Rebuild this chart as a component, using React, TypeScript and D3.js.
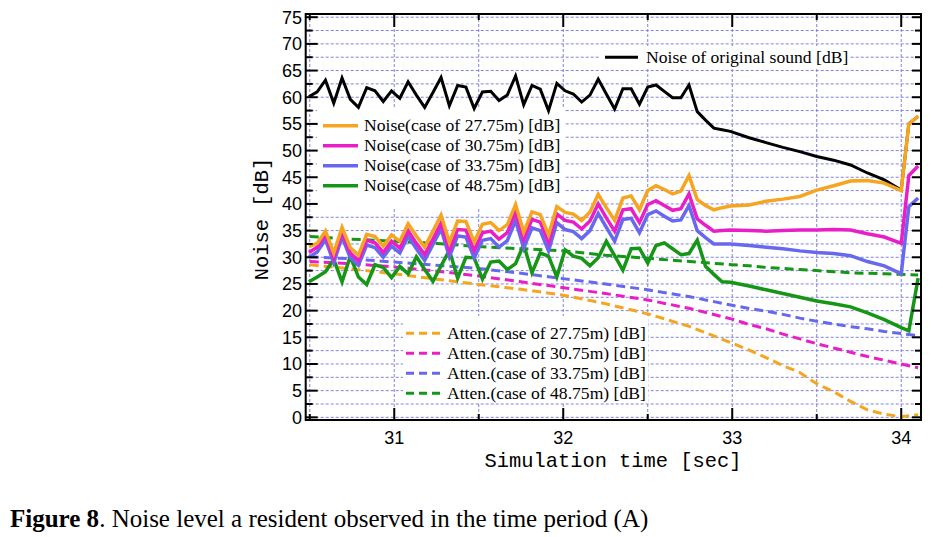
import React from 'react';
import * as d3 from 'd3';

// ---- data ----
const TIMES = [
  30.495, 30.544, 30.593, 30.642, 30.691, 30.740, 30.788, 30.837, 30.886, 30.935,
  30.984, 31.033, 31.082, 31.131, 31.180, 31.229, 31.277, 31.326, 31.375, 31.424,
  31.473, 31.522, 31.571, 31.620, 31.669, 31.718, 31.766, 31.815, 31.864, 31.913,
  31.962, 32.011, 32.060, 32.109, 32.158, 32.207, 32.255, 32.304, 32.353, 32.402,
  32.451, 32.500, 32.549, 32.598, 32.647, 32.696, 32.744, 32.793, 32.842, 32.891,
  32.940, 32.989,
  33.1, 33.2, 33.3, 33.4, 33.5, 33.6, 33.7, 33.8, 33.9, 34.0, 34.045, 34.1,
];

const ORIGINAL = [
  60.1, 61.0, 63.2, 58.9, 63.6, 59.6, 58.1, 61.8, 61.2, 59.2,
  61.2, 59.8, 62.9, 60.4, 58.1, 60.9, 63.7, 58.4, 62.2, 61.9,
  57.9, 61.0, 61.1, 59.4, 60.4, 64.0, 58.6, 62.2, 61.5, 57.5,
  62.6, 61.2, 60.6, 59.1, 60.4, 63.4, 60.6, 57.8, 61.6, 61.6,
  58.7, 61.9, 62.3, 61.1, 59.9, 59.9, 62.3, 57.3, 55.7, 54.2,
  53.9, 53.6,
  52.4, 51.5, 50.6, 49.8, 48.9, 48.2, 47.3, 45.8, 44.5, 42.6, 55.0, 56.4,
];

const NOISE_27 = [
  32.0, 32.6, 34.9, 30.8, 35.6, 31.8, 30.4, 34.3, 33.9, 32.1,
  34.2, 33.0, 36.3, 34.0, 31.9, 34.9, 37.9, 32.8, 36.8, 36.7,
  32.9, 36.2, 36.5, 35.0, 36.1, 39.9, 34.7, 38.5, 38.0, 34.2,
  39.5, 38.4, 38.1, 36.9, 38.5, 41.8, 39.3, 36.9, 41.1, 41.5,
  38.9, 42.5, 43.4, 42.7, 41.9, 42.4, 45.3, 40.8, 39.7, 38.9,
  39.3, 39.6,
  39.8, 40.5, 40.9, 41.4, 42.6, 43.4, 44.3, 44.4, 43.9, 42.5, 55.0, 56.4,
];

const NOISE_30 = [
  30.9, 31.9, 34.2, 29.9, 34.7, 30.8, 29.4, 33.2, 32.7, 30.9,
  33.0, 31.7, 35.0, 32.6, 30.5, 33.4, 36.4, 31.3, 35.2, 35.1,
  31.3, 34.6, 34.9, 33.4, 34.6, 38.5, 33.3, 37.1, 36.6, 32.8,
  38.1, 36.9, 36.6, 35.3, 36.8, 40.0, 37.4, 34.9, 38.9, 39.1,
  36.5, 39.9, 40.6, 39.7, 38.8, 39.1, 41.9, 37.2, 36.0, 34.9,
  35.0, 35.1,
  35.0, 34.9, 35.0, 35.1, 35.1, 35.2, 35.1, 34.4, 33.8, 32.6, 45.3, 47.1,
];

const NOISE_33 = [
  30.0, 31.0, 33.3, 29.0, 33.8, 29.9, 28.5, 32.3, 31.8, 30.0,
  32.1, 30.8, 34.0, 31.6, 29.4, 32.4, 35.3, 30.1, 34.0, 33.8,
  29.9, 33.2, 33.5, 31.9, 33.1, 36.9, 31.7, 35.5, 35.0, 31.2,
  36.5, 35.2, 34.8, 33.5, 35.0, 38.2, 35.6, 33.0, 37.1, 37.3,
  34.6, 38.0, 38.7, 37.7, 36.8, 37.0, 39.7, 35.0, 33.7, 32.5,
  32.5, 32.5,
  32.2, 31.9, 31.6, 31.2, 30.9, 30.7, 30.3, 29.2, 28.4, 26.9, 39.5, 41.1,
];

const NOISE_48 = [
  25.4, 26.3, 27.3, 29.6, 25.4, 30.2, 26.3, 24.9, 28.6, 28.1,
  26.2, 28.3, 26.9, 30.1, 27.7, 25.5, 28.4, 31.3, 26.1, 30.0,
  29.9, 25.9, 29.1, 29.3, 27.7, 28.8, 32.4, 27.1, 30.8, 30.2,
  26.3, 31.4, 30.2, 29.8, 28.4, 29.9, 33.0, 30.3, 27.6, 31.6,
  31.7, 28.9, 32.2, 32.7, 31.6, 30.5, 30.7, 33.2, 28.3, 26.8,
  25.4, 25.3,
  24.6, 23.9, 23.2, 22.5, 21.8, 21.3, 20.7, 19.6, 18.3, 16.8, 16.2, 26.1,
];

const ATTEN_TIMES = [
  30.5, 30.75, 31.0, 31.25, 31.5, 31.75, 32.0, 32.25, 32.5, 32.75, 33.0,
  33.1, 33.2, 33.3, 33.4, 33.5, 33.6, 33.7, 33.8, 33.9, 34.0, 34.1,
];
const ATTEN_27 = [28.6, 27.8, 26.9, 25.9, 24.9, 24.0, 22.9, 21.3, 19.4, 17.0, 13.9, 12.6, 11.2, 9.7, 8.4, 6.3, 4.8, 3.0, 1.4, 0.6, 0.1, 0.5];
const ATTEN_30 = [29.2, 28.8, 28.2, 27.4, 26.5, 25.4, 24.3, 23.2, 22.0, 20.4, 18.4, 17.4, 16.6, 15.6, 14.7, 13.8, 13.0, 12.2, 11.4, 10.7, 10.0, 9.3];
const ATTEN_33 = [30.1, 29.7, 29.1, 28.5, 27.9, 27.0, 26.0, 25.0, 23.9, 22.6, 21.0, 20.4, 19.9, 19.3, 18.6, 18.0, 17.5, 17.0, 16.6, 16.1, 15.7, 15.3];
const ATTEN_48 = [33.9, 33.4, 33.0, 32.6, 32.0, 31.6, 31.2, 30.4, 29.8, 29.2, 28.6, 28.4, 28.1, 27.9, 27.7, 27.5, 27.3, 27.1, 27.0, 26.9, 26.8, 26.7];

const Y_TICKS = [0, 5, 10, 15, 20, 25, 30, 35, 40, 45, 50, 55, 60, 65, 70, 75];
const X_TICKS = [31, 32, 33, 34];

const NOISE_LABELS = [
  'Noise(case of 27.75m) [dB]',
  'Noise(case of 30.75m) [dB]',
  'Noise(case of 33.75m) [dB]',
  'Noise(case of 48.75m) [dB]',
];
const ATTEN_LABELS = [
  'Atten.(case of 27.75m) [dB]',
  'Atten.(case of 30.75m) [dB]',
  'Atten.(case of 33.75m) [dB]',
  'Atten.(case of 48.75m) [dB]',
];
const ORIGINAL_LABEL = 'Noise of original sound [dB]';

const COLORS = ['#f5a51f', '#ea1ec6', '#6868ee', '#169616'];

export default function App() {
  const W = 943, H = 537;
  const x0 = 305.7, x1 = 921, yTop = 14, yBot = 420;
  const x = d3.scaleLinear().domain([30.476, 34.117]).range([x0, x1]);
  const y = d3.scaleLinear().domain([-0.5, 75.6]).range([yBot, yTop]);

  const line = d3.line<[number, number]>().x(d => x(d[0])).y(d => y(d[1]));
  const mk = (ts: number[], vs: number[]) => line(ts.map((t, i) => [t, vs[i]] as [number, number])) || '';

  const noise = [NOISE_27, NOISE_30, NOISE_33, NOISE_48];
  const atten = [ATTEN_27, ATTEN_30, ATTEN_33, ATTEN_48];

  const hGrid = d3.range(0, 75.01, 2.5);
  const vGrid = d3.range(30.5, 34.01, 0.5);

  const gridColor = '#8282dc';
  const tickFont = "'Liberation Sans', Arial, sans-serif";
  const monoFont = "'Liberation Mono', 'DejaVu Sans Mono', monospace";
  const serif = "'Liberation Serif', 'Times New Roman', serif";

  const noiseRows = [125.7, 145.7, 165.7, 185.7];
  const attenRows = [333.3, 353.3, 373.3, 393.3];

  return (
    <svg width={W} height={H} style={{ position: 'absolute', left: 0, top: 0, background: '#fff' }}>
      <defs>
        <clipPath id="plot">
          <rect x={x0} y={yTop} width={x1 - x0} height={yBot - yTop} />
        </clipPath>
      </defs>
      <rect x={0} y={0} width={W} height={H} fill="#fff" />
      {/* grid */}
      <g stroke={gridColor} strokeWidth={1} strokeDasharray="3 2">
        {hGrid.map(v => (
          <line key={'h' + v} x1={x0} x2={x1} y1={y(v)} y2={y(v)} />
        ))}
        {vGrid.map(t => (
          <line key={'v' + t} x1={x(t)} x2={x(t)} y1={yTop} y2={yBot} />
        ))}
      </g>
      {/* legend backgrounds hiding grid */}
      <rect x={317} y={107} width={247} height={101} fill="#fff" />
      <rect x={403} y={316} width={245} height={86} fill="#fff" />
      <rect x={600} y={46} width={249} height={23} fill="#fff" />

      <g clipPath="url(#plot)" fill="none">
        {atten.map((a, i) => (
          <path key={'a' + i} d={mk(ATTEN_TIMES, a)} stroke={COLORS[i]} strokeWidth={3} strokeDasharray="9 5" />
        ))}
        <path d={mk(TIMES, ORIGINAL)} stroke="#000" strokeWidth={3} strokeLinejoin="miter" />
        {[3, 2, 1, 0].map(i => (
          <path key={'n' + i} d={mk(TIMES, noise[i])} stroke={COLORS[i]} strokeWidth={3.5} strokeLinejoin="miter" />
        ))}
      </g>

      {/* frame */}
      <rect x={x0} y={yTop} width={x1 - x0} height={yBot - yTop} fill="none" stroke="#000" strokeWidth={2} />
      {/* ticks */}
      <g stroke="#000" strokeWidth={2}>
        {hGrid.map(v => {
          const major = Math.abs(v % 5) < 1e-6;
          return (
            <g key={'yt' + v}>
              <line x1={x0} x2={x0 + (major ? 12 : 7)} y1={y(v)} y2={y(v)} />
              <line x1={x1} x2={x1 - (major ? 9 : 6)} y1={y(v)} y2={y(v)} />
            </g>
          );
        })}
        {vGrid.map(t => {
          const major = Math.abs(t - Math.round(t)) < 1e-6;
          return (
            <g key={'xt' + t}>
              <line x1={x(t)} x2={x(t)} y1={yBot} y2={yBot - (major ? 12 : 6)} />
              <line x1={x(t)} x2={x(t)} y1={yTop} y2={yTop + (major ? 13 : 6)} />
            </g>
          );
        })}
      </g>
      {/* tick labels */}
      <g fontFamily={tickFont} fontSize={18} fill="#000">
        {Y_TICKS.map(v => (
          <text key={'yl' + v} x={302} y={y(v) + 6.5} textAnchor="end">{v}</text>
        ))}
        {X_TICKS.map(t => (
          <text key={'xl' + t} x={x(t)} y={444} textAnchor="middle">{t}</text>
        ))}
      </g>
      {/* axis titles */}
      <text x={613} y={467} textAnchor="middle" fontFamily={monoFont} fontSize={20.4} fill="#000">
        Simulation time [sec]
      </text>
      <text transform="translate(268,219) rotate(-90)" textAnchor="middle" fontFamily={monoFont} fontSize={20.4} fill="#000">
        Noise [dB]
      </text>

      {/* legends */}
      <g fontFamily={serif} fontSize={17.6} fill="#000">
        <line x1={605} x2={638} y1={57.3} y2={57.3} stroke="#000" strokeWidth={3} />
        <text x={646} y={63}>{ORIGINAL_LABEL}</text>
        {NOISE_LABELS.map((l, i) => (
          <g key={'nl' + i}>
            <line x1={323} x2={358} y1={noiseRows[i]} y2={noiseRows[i]} stroke={COLORS[i]} strokeWidth={3.5} />
            <text x={364} y={noiseRows[i] + 5.5}>{l}</text>
          </g>
        ))}
        {ATTEN_LABELS.map((l, i) => (
          <g key={'al' + i}>
            <line x1={406} x2={440} y1={attenRows[i]} y2={attenRows[i]} stroke={COLORS[i]} strokeWidth={3} strokeDasharray="8 5" />
            <text x={447} y={attenRows[i] + 5.5}>{l}</text>
          </g>
        ))}
      </g>

      {/* caption */}
      <text x={10} y={527} fontFamily={serif} fontSize={25} fill="#000">
        <tspan fontWeight="bold">Figure 8</tspan>
        <tspan>. Noise level a resident observed in the time period (A)</tspan>
      </text>
    </svg>
  );
}
